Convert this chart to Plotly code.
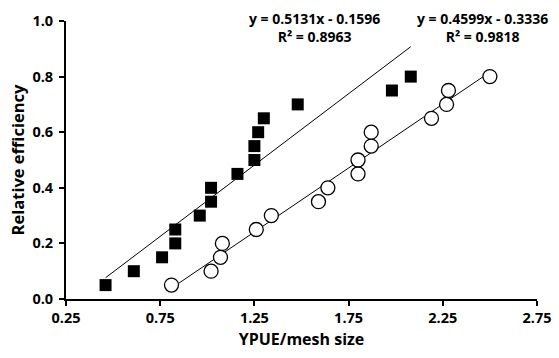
import plotly.graph_objects as go

sq_x = [0.46, 0.61, 0.76, 0.83, 0.83, 0.96, 1.02, 1.02, 1.16, 1.25, 1.25, 1.27, 1.30, 1.48, 1.98, 2.08]
sq_y = [0.05, 0.10, 0.15, 0.20, 0.25, 0.30, 0.35, 0.40, 0.45, 0.50, 0.55, 0.60, 0.65, 0.70, 0.75, 0.80]
ci_x = [0.81, 1.02, 1.07, 1.08, 1.26, 1.34, 1.59, 1.64, 1.80, 1.80, 1.87, 1.87, 2.19, 2.27, 2.28, 2.50]
ci_y = [0.05, 0.10, 0.15, 0.20, 0.25, 0.30, 0.35, 0.40, 0.45, 0.50, 0.55, 0.60, 0.65, 0.70, 0.75, 0.80]

sq_fit = (0.5131, -0.1596, 0.8963)
ci_fit = (0.4599, -0.3336, 0.9818)

x_ticks = [0.25, 0.75, 1.25, 1.75, 2.25, 2.75]
y_ticks = [0.0, 0.2, 0.4, 0.6, 0.8, 1.0]

FONT = "Open Sans"

def line_pts(xs, fit):
    a, b, _ = fit
    x0, x1 = min(xs), max(xs)
    return [x0, x1], [a * x0 + b, a * x1 + b]

fig = go.Figure()
lx, ly = line_pts(sq_x, sq_fit)
fig.add_trace(go.Scatter(x=lx, y=ly, mode="lines", line=dict(color="black", width=1), showlegend=False))
lx, ly = line_pts(ci_x, ci_fit)
fig.add_trace(go.Scatter(x=lx, y=ly, mode="lines", line=dict(color="black", width=1), showlegend=False))
fig.add_trace(go.Scatter(x=sq_x, y=sq_y, mode="markers",
                         marker=dict(symbol="square", size=12, color="black", line=dict(width=0)),
                         showlegend=False))
fig.add_trace(go.Scatter(x=ci_x, y=ci_y, mode="markers",
                         marker=dict(symbol="circle", size=14, color="white", line=dict(color="black", width=1.3)),
                         showlegend=False))

def eq_text(fit):
    a, b, r2 = fit
    sign = "-" if b < 0 else "+"
    return f"y = {a:.4f}x {sign} {abs(b):.4f}<br>R² = {r2:.4f}"

for fit, xpos in ((sq_fit, 1.57), (ci_fit, 2.46)):
    fig.add_annotation(x=xpos, y=0.978, xref="x", yref="y", text=eq_text(fit), showarrow=False,
                       xanchor="center", yanchor="middle", align="center",
                       font=dict(family=FONT, size=14, color="black", weight=700))

axis_common = dict(showline=True, linecolor="black", linewidth=2, ticks="outside", ticklen=5,
                   tickwidth=2, tickcolor="black", showgrid=False, zeroline=False, automargin=False,
                   tickfont=dict(family=FONT, size=14.5, color="black", weight=700))

fig.update_layout(
    width=559, height=358,
    margin=dict(l=66, r=22, t=21, b=59),
    plot_bgcolor="white", paper_bgcolor="white",
    xaxis=dict(range=[0.25, 2.75], tickvals=x_ticks, ticktext=[f"{v:.2f}" for v in x_ticks],
               title=dict(text="YPUE/mesh size", standoff=7,
                          font=dict(family=FONT, size=16, color="black", weight=700)),
               **axis_common),
    yaxis=dict(range=[0, 1.0], tickvals=y_ticks, ticktext=[f"{v:.1f}" for v in y_ticks],
               ticklabelstandoff=3,
               title=dict(text="Relative efficiency", standoff=4,
                          font=dict(family=FONT, size=16.5, color="black", weight=700)),
               **axis_common),
)

fig.write_html("out.html", config={"displayModeBar": False},
               post_script="document.body.style.margin='0';")
